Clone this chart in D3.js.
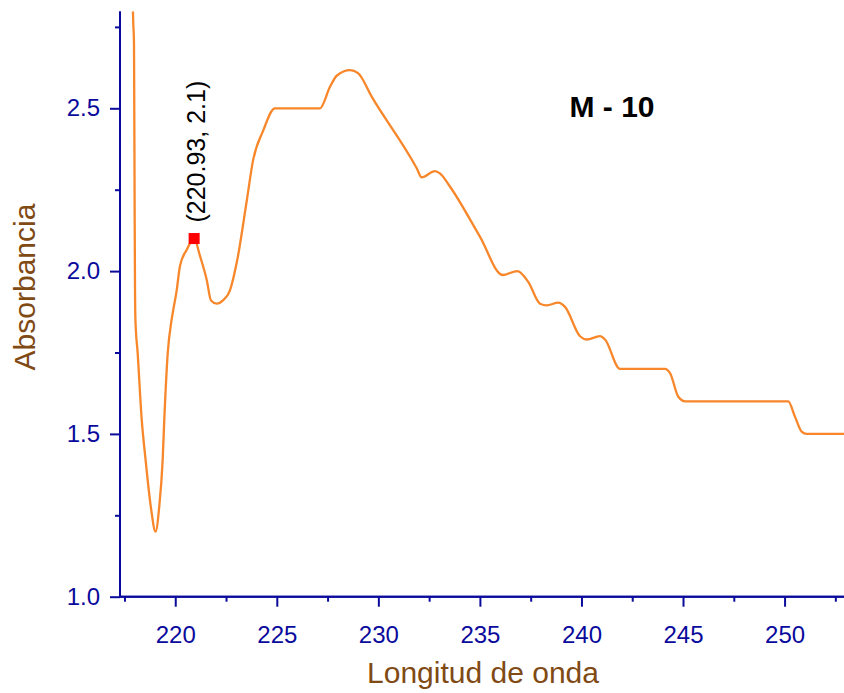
<!DOCTYPE html>
<html>
<head>
<meta charset="utf-8">
<script src="https://cdn.jsdelivr.net/npm/d3@7/dist/d3.min.js"></script>
<style>
  body { margin: 0; background: #fff; }
  svg { display: block; font-family: Arial, "Liberation Sans", sans-serif; }
</style>
</head>
<body>
<svg id="chart" width="844" height="693"></svg>
<script>
// wavelength (nm)
var wavelength = [217.9, 217.92, 217.97, 218.0, 218.02, 218.04, 218.15, 218.35, 218.54, 218.8, 219.03,
  219.21, 219.38, 219.46, 219.63, 219.82, 219.9, 220.07, 220.23, 220.56, 220.93, 221.22, 221.55,
  221.76, 222.05, 222.35, 222.69, 223.04, 223.53, 223.83, 224.32, 224.91, 227.12, 227.62, 227.95,
  228.61, 229.0, 229.67, 231.89, 232.13, 232.79, 233.03, 233.53, 235.0, 236.12, 236.84, 237.38,
  237.96, 238.29, 238.86, 239.19, 239.93, 240.26, 240.91, 241.16, 241.89, 244.11, 244.36, 244.77,
  245.1, 250.18, 250.51, 250.84, 251.09, 253.0];
var absorbance = [2.9, 2.796, 2.694, 2.2, 1.94, 1.85, 1.748, 1.543, 1.42, 1.275, 1.2,
  1.275, 1.42, 1.543, 1.748, 1.85, 1.88, 1.94, 2.015, 2.065, 2.1, 2.046, 1.973,
  1.91, 1.9, 1.91, 1.94, 2.03, 2.22, 2.34, 2.43, 2.5, 2.5, 2.566, 2.6,
  2.617, 2.608, 2.536, 2.316, 2.288, 2.307, 2.3, 2.259, 2.106, 1.988, 2.0, 1.967,
  1.9, 1.895, 1.903, 1.89, 1.8, 1.79, 1.8, 1.79, 1.7, 1.7, 1.687, 1.614,
  1.6, 1.6, 1.553, 1.507, 1.5, 1.5];

var xTicks = [220, 225, 230, 235, 240, 245, 250];
var xMinor = [217.5, 222.5, 227.5, 232.5, 237.5, 242.5, 247.5, 252.5];
var yTicks = [1.0, 1.5, 2.0, 2.5];
var yMinor = [1.25, 1.75, 2.25, 2.75];

var peak = [220.93, 2.1];
var sampleName = "M - 10";

var axisColor = "#0a0a9c";
var titleColor = "#7f4a14";
var lineColor = "#f7872a";
var fontFam = "Arial, 'Liberation Sans', sans-serif";

var svg = d3.select("#chart");

var x = d3.scaleLinear().domain([217.28, 253.0]).range([120, 845.5]);
var y = d3.scaleLinear().domain([1.0, 2.797]).range([596.7, 11.6]);

// clip so the steep start runs off the top like the original
svg.append("clipPath").attr("id", "plotClip")
  .append("rect")
  .attr("x", 120).attr("y", y.range()[1])
  .attr("width", 844 - 120).attr("height", y.range()[0] - y.range()[1]);

var pts = wavelength.map(function (w, i) { return [w, absorbance[i]]; });

var line = d3.line()
  .x(function (d) { return x(d[0]); })
  .y(function (d) { return y(d[1]); })
  .curve(d3.curveMonotoneX);

svg.append("path")
  .datum(pts)
  .attr("clip-path", "url(#plotClip)")
  .attr("fill", "none")
  .attr("stroke", lineColor)
  .attr("stroke-width", 2.3)
  .attr("stroke-linejoin", "round")
  .attr("d", line);

// axes
var xAxis = svg.append("g")
  .attr("transform", "translate(0," + y(1.0) + ")")
  .call(d3.axisBottom(x).tickValues(xTicks).tickSize(10).tickPadding(19).tickFormat(d3.format("d")));
xAxis.append("g")
  .call(d3.axisBottom(x).tickValues(xMinor).tickSize(5).tickFormat(""));

var yAxis = svg.append("g")
  .attr("transform", "translate(" + x.range()[0] + ",0)")
  .call(d3.axisLeft(y).tickValues(yTicks).tickSize(10).tickPadding(10).tickFormat(d3.format(".1f")));
yAxis.append("g")
  .call(d3.axisLeft(y).tickValues(yMinor).tickSize(5).tickFormat(""));

svg.selectAll(".domain").attr("stroke", axisColor).attr("stroke-width", 2);
svg.selectAll(".tick line").attr("stroke", axisColor).attr("stroke-width", 2);
xAxis.attr("font-family", fontFam);
yAxis.attr("font-family", fontFam);
svg.selectAll(".tick text")
  .attr("fill", axisColor)
  .style("font-size", "24px");
yAxis.selectAll(".domain").attr("d", "M0," + y.range()[0] + "V" + y.range()[1]);
xAxis.selectAll(".domain").attr("d", "M" + x.range()[0] + ",0H844");

// axis titles
svg.append("text")
  .attr("x", 483).attr("y", 683)
  .attr("text-anchor", "middle")
  .attr("fill", titleColor)
  .style("font-size", "30px")
  .text("Longitud de onda");

svg.append("text")
  .attr("transform", "translate(35,287) rotate(-90)")
  .attr("text-anchor", "middle")
  .attr("fill", titleColor)
  .style("font-size", "30px")
  .text("Absorbancia");

// marked peak
svg.append("rect")
  .attr("x", x(peak[0]) - 5.5).attr("y", y(peak[1]) - 5.5)
  .attr("width", 11).attr("height", 11)
  .attr("fill", "#ff0000");

svg.append("text")
  .attr("transform", "translate(" + (x(peak[0]) + 11) + "," + (y(peak[1]) - 16) + ") rotate(-90)")
  .attr("fill", "#000")
  .style("font-size", "25px")
  .text("(" + peak[0] + ", " + peak[1] + ")");

svg.append("text")
  .attr("x", 612).attr("y", 116.7)
  .attr("text-anchor", "middle")
  .attr("fill", "#000")
  .style("font-size", "30px")
  .style("font-weight", "bold")
  .text(sampleName);
</script>
</body>
</html>
